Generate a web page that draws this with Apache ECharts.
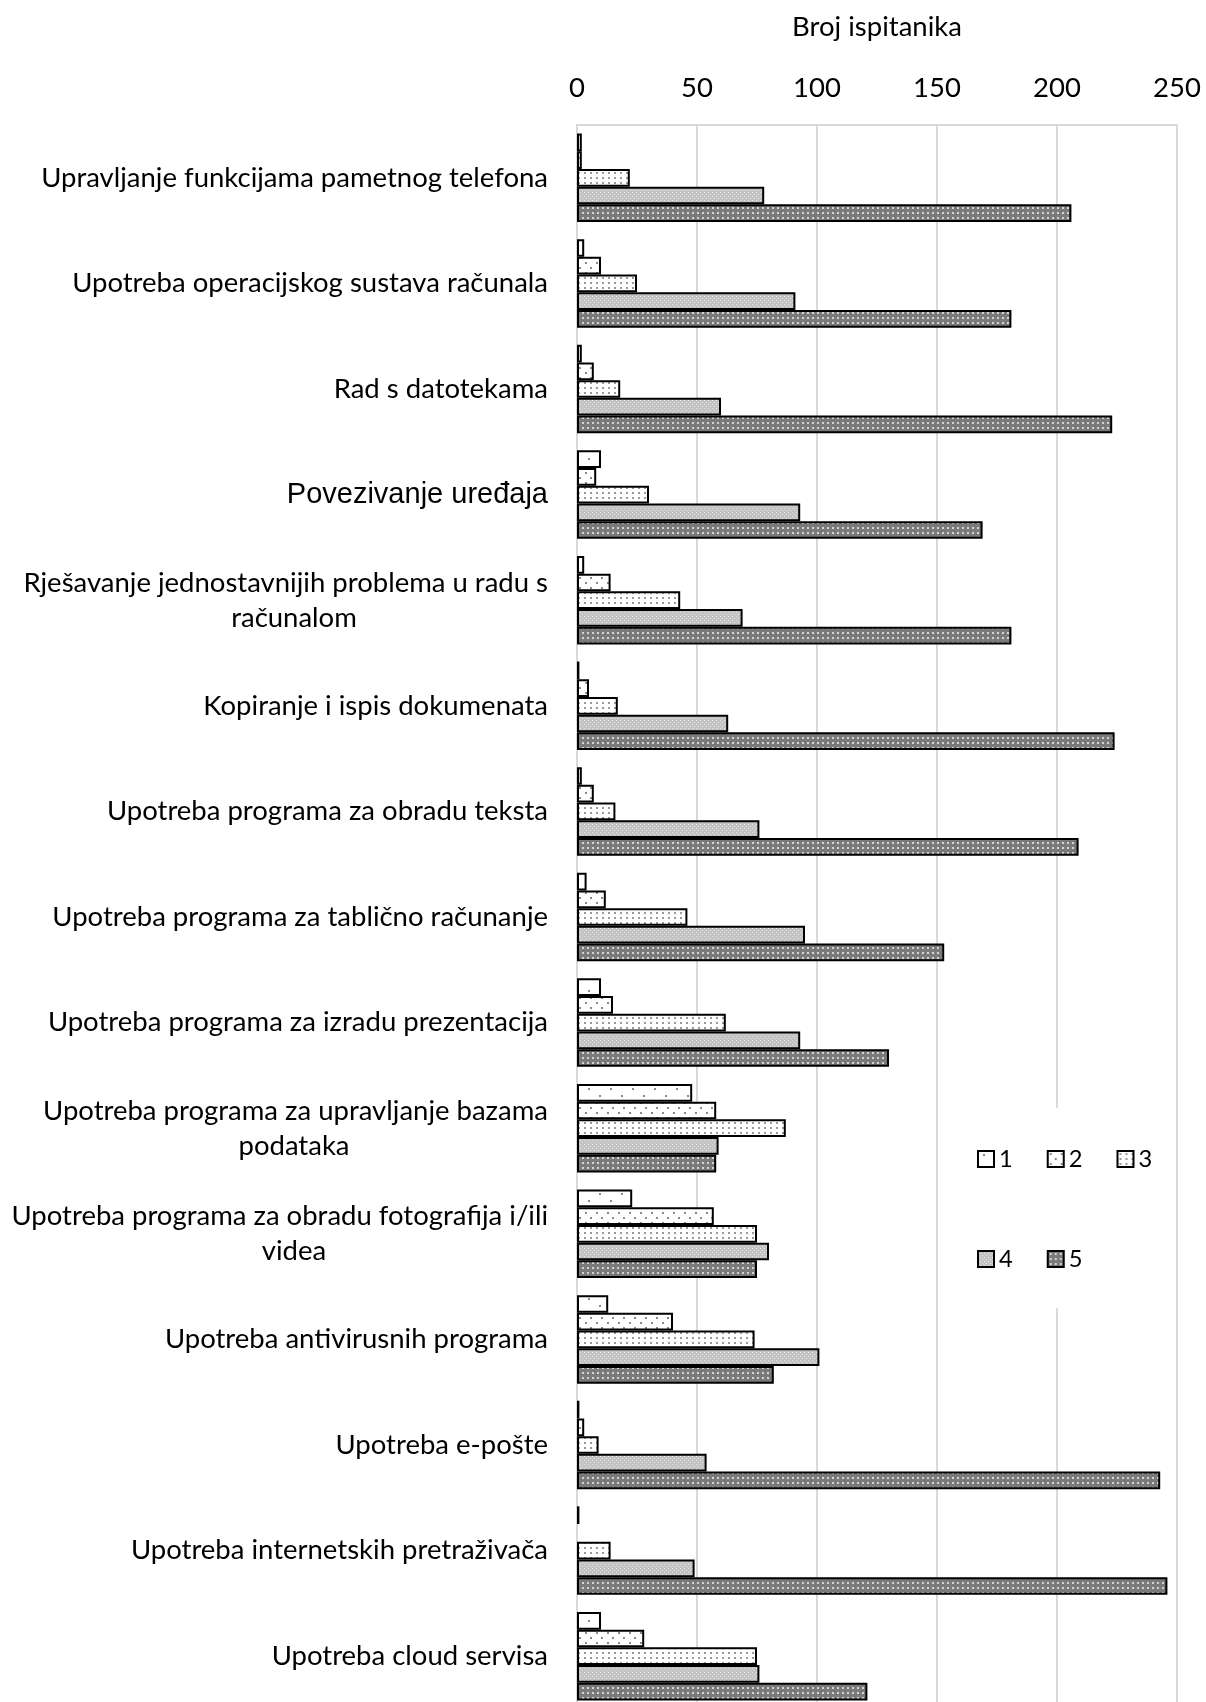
<!DOCTYPE html>
<html><head><meta charset="utf-8">
<script src="https://cdn.jsdelivr.net/npm/echarts@6/dist/echarts.min.js"></script>
<style>html,body{margin:0;padding:0;background:#fff;width:1206px;height:1702px;overflow:hidden}#c{width:1206px;height:1712px}</style>
</head><body><div id="c"></div>
<script>
// ---- data ----
const categories = [
  'Upravljanje funkcijama pametnog telefona',
  'Upotreba operacijskog sustava računala',
  'Rad s datotekama',
  'Povezivanje uređaja',
  'Rješavanje jednostavnijih problema u radu s\nračunalom',
  'Kopiranje i ispis dokumenata',
  'Upotreba programa za obradu teksta',
  'Upotreba programa za tablično računanje',
  'Upotreba programa za izradu prezentacija',
  'Upotreba programa za upravljanje bazama\npodataka',
  'Upotreba programa za obradu fotografija i/ili\nvidea',
  'Upotreba antivirusnih programa',
  'Upotreba e-pošte',
  'Upotreba internetskih pretraživača',
  'Upotreba cloud servisa'
];
const seriesNames = ['1', '2', '3', '4', '5'];
const s1 = [2, 3, 2, 10, 3, 1, 2, 4, 10, 48, 23, 13, 1, 1, 10];
const s2 = [2, 10, 7, 8, 14, 5, 7, 12, 15, 58, 57, 40, 3, 0, 28];
const s3 = [22, 25, 18, 30, 43, 17, 16, 46, 62, 87, 75, 74, 9, 14, 75];
const s4 = [78, 91, 60, 93, 69, 63, 76, 95, 93, 59, 80, 101, 54, 49, 76];
const s5 = [206, 181, 223, 169, 181, 224, 209, 153, 130, 58, 75, 82, 243, 246, 121];
const axisTitle = 'Broj ispitanika';
const xMin = 0, xMax = 250, xStep = 50;

// ---- styling helpers ----
function pattern(w, h, bg, dots, dotColor, r) {
  const c = document.createElement('canvas');
  c.width = w; c.height = h;
  const g = c.getContext('2d');
  g.fillStyle = bg; g.fillRect(0, 0, w, h);
  g.fillStyle = dotColor;
  dots.forEach(d => g.fillRect(d[0], d[1], r, r));
  return { image: c, repeat: 'repeat' };
}
const fills = [
  pattern(22, 14, '#ffffff', [[5, 3], [16, 10]], '#8a8a8a', 2),
  pattern(11, 10, '#ffffff', [[2, 2], [7, 7]], '#8a8a8a', 2),
  pattern(6, 5, '#ffffff', [[2, 2]], '#9a9a9a', 2),
  pattern(4, 4, '#c3c3c3', [[0, 0], [2, 2]], '#e4e4e4', 1),
  pattern(5, 5, '#7a7a7a', [[2, 2]], '#d4d4d4', 2)
];

const FONT = 'Lato';
const meas = document.createElement('canvas').getContext('2d');
function textW(t, fs, fam) { meas.font = fs + 'px ' + fam; return meas.measureText(t).width; }
const k = 507 / textW(categories[0], 29, FONT);
const fsLabel = 29 * k;
const fsLegend = 25 * k;
const LABEL_RIGHT = 548;     // right edge of category labels (px)
const WRAP_CENTER = 294;     // centre of second lines of wrapped labels (px)

const rich = {
  p: { fontFamily: 'Liberation Sans', fontSize: 29, color: '#000' },
  a: { fontFamily: FONT, fontSize: fsLabel, lineHeight: 35, color: '#000' }
};
categories.forEach((c, i) => {
  const parts = c.split('\n');
  if (parts.length > 1) {
    const w2 = textW(parts[1], fsLabel, FONT);
    const pr = Math.max(0, (LABEL_RIGHT - WRAP_CENTER) - w2 / 2);
    rich['b' + i] = { fontFamily: FONT, fontSize: fsLabel, lineHeight: 35, color: '#000', align: 'right', padding: [0, pr, 0, 0] };
  }
});

const allData = [s1, s2, s3, s4, s5];
const series = allData.map((arr, si) => ({
  name: seriesNames[si],
  type: 'bar',
  barWidth: 17.7,
  barGap: '0%',
  itemStyle: { color: fills[si], borderColor: '#000', borderWidth: 2 },
  emphasis: { disabled: true },
  data: arr.map(v => v === 0 ? { value: v, itemStyle: { borderWidth: 0 } } : v)
}));

const legendText = { fontFamily: FONT, fontSize: fsLegend, color: '#000' };
const chart = echarts.init(document.getElementById('c'), null, { renderer: 'canvas' });
chart.setOption({
  animation: false,
  backgroundColor: '#fff',
  grid: { left: 577, right: 29, top: 125, bottom: 3, containLabel: false },
  xAxis: {
    type: 'value', position: 'top', min: xMin, max: xMax, interval: xStep,
    name: axisTitle, nameLocation: 'middle', nameGap: 84,
    nameTextStyle: { fontFamily: FONT, fontSize: fsLabel, color: '#000' },
    axisLine: { show: true, lineStyle: { color: '#d9d9d9', width: 2 } },
    axisTick: { show: false },
    axisLabel: { fontFamily: FONT, fontSize: fsLabel, color: '#000', margin: 23 },
    splitLine: { show: true, lineStyle: { color: '#d9d9d9', width: 2 } }
  },
  yAxis: {
    type: 'category', data: categories, inverse: true,
    axisLine: { show: true, lineStyle: { color: '#d9d9d9', width: 2 } },
    axisTick: { show: false },
    axisLabel: {
      margin: 29, fontFamily: FONT, fontSize: fsLabel, color: '#000', lineHeight: 35,
      interval: 0,
      formatter: function (v, i) {
        if (i === 3) return '{p|' + v + '}';
        if (rich['b' + i]) {
          const parts = v.split('\n');
          return '{a|' + parts[0] + '}\n{b' + i + '|' + parts[1] + '}';
        }
        return v;
      },
      rich: rich
    }
  },
  legend: [
    {
      data: ['1', '2', '3'], left: 945, top: 1108, orient: 'horizontal',
      padding: [39, 22, 39, 32], itemGap: 34, itemWidth: 16, itemHeight: 16,
      icon: 'rect', selectedMode: false, backgroundColor: '#fff', textStyle: legendText
    },
    {
      data: ['4', '5'], left: 945, top: 1210, orient: 'horizontal',
      padding: [37, 90, 37, 32], itemGap: 34, itemWidth: 16, itemHeight: 16,
      icon: 'rect', selectedMode: false, backgroundColor: '#fff', textStyle: legendText
    }
  ],
  series: series
});
</script></body></html>
